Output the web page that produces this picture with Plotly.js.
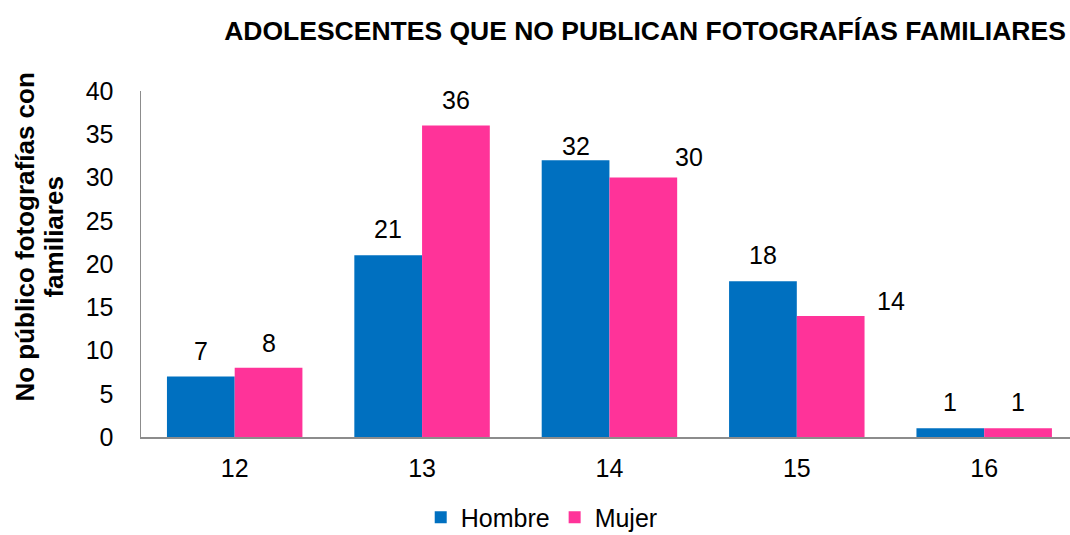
<!DOCTYPE html>
<html>
<head>
<meta charset="utf-8">
<script src="https://cdn.plot.ly/plotly-3.0.1.min.js"></script>
<style>html,body{margin:0;padding:0;background:#fff;}#chart{width:1070px;height:535px;}</style>
</head>
<body>
<div id="chart"></div>
<script>
// ---- data ----
const categories = ['12', '13', '14', '15', '16'];
const hombre = [7, 21, 32, 18, 1];
const mujer = [8, 36, 30, 14, 1];
const seriesNames = ['Hombre', 'Mujer'];
const chartTitle = 'ADOLESCENTES QUE NO PUBLICAN FOTOGRAFÍAS FAMILIARES';
const yTitleLines = ['No público fotografías con', 'familiares'];

// ---- style ----
const FONT = 'Liberation Sans, Arial, sans-serif';
const BLUE = '#0070C0';
const PINK = '#FF3399';
const HALF = 33.9; // half bar width in px
// label offsets (px): [dx, dy] relative to bar centre / top
const hOff = [[0,25],[0,26],[0,14],[0,26],[0,26]];
const mOff = [[0,25],[0,25.5],[45.5,21],[60,14.5],[0,26]];

const traces = [
  {type:'bar', name: seriesNames[0], x: categories, y: hombre, marker:{color:BLUE}, hoverinfo:'none'},
  {type:'bar', name: seriesNames[1], x: categories, y: mujer, marker:{color:PINK}, hoverinfo:'none'}
];

const annotations = [];
categories.forEach((c, i) => {
  annotations.push({x:i, y:hombre[i], xref:'x', yref:'y', text:String(hombre[i]), showarrow:false,
    xanchor:'center', yanchor:'middle', xshift:-HALF + hOff[i][0], yshift:hOff[i][1],
    font:{family:FONT, size:25, color:'#000'}});
  annotations.push({x:i, y:mujer[i], xref:'x', yref:'y', text:String(mujer[i]), showarrow:false,
    xanchor:'center', yanchor:'middle', xshift:HALF + mOff[i][0], yshift:mOff[i][1],
    font:{family:FONT, size:25, color:'#000'}});
});
// y axis title (two lines)
const L = 141.4, T = 90.8, B = 437.3, R = 1070;
const W = R - L, H = B - T;
const px2x = p => (p - L) / W;
const py2y = p => (B - p) / H;
annotations.push({xref:'paper', yref:'paper', x:px2x(25), y:py2y(237), text:yTitleLines[0], textangle:-90,
  showarrow:false, xanchor:'center', yanchor:'middle', font:{family:FONT, size:26, color:'#000', weight:'bold'}});
annotations.push({xref:'paper', yref:'paper', x:px2x(54), y:py2y(237), text:yTitleLines[1], textangle:-90,
  showarrow:false, xanchor:'center', yanchor:'middle', font:{family:FONT, size:26, color:'#000', weight:'bold'}});

const layout = {
  width:1070, height:535,
  paper_bgcolor:'#fff', plot_bgcolor:'#fff',
  margin:{l:L, r:0, t:T, b:535-B, pad:0, autoexpand:false},
  font:{family:FONT, size:25, color:'#000'},
  title:{text:chartTitle, xref:'container', yref:'container', x:645/1070, xanchor:'center',
    y:1-30.8/535, yanchor:'middle', font:{family:FONT, size:26.5, color:'#000', weight:'bold'}},
  barmode:'group', bargap:0.277, bargroupgap:0,
  showlegend:true,
  legend:{orientation:'h', x:px2x(421), xanchor:'left', y:py2y(518), yanchor:'middle',
    font:{family:FONT, size:25, color:'#000'}, bgcolor:'rgba(0,0,0,0)', traceorder:'normal'},
  xaxis:{type:'category', range:[-0.5, 4.458], showgrid:false, zeroline:false,
    showline:true, linecolor:'#8c8c8c', linewidth:1.5, ticks:'', ticklabelstandoff:8,
    tickfont:{family:FONT, size:25, color:'#000'}, fixedrange:true},
  yaxis:{range:[0,40], dtick:5, tick0:0, showgrid:false, zeroline:false,
    showline:true, linecolor:'#8c8c8c', linewidth:1.5, ticks:'', ticklabelstandoff:21,
    tickfont:{family:FONT, size:25, color:'#000'}, fixedrange:true},
  annotations: annotations
};

Plotly.newPlot('chart', traces, layout, {displayModeBar:false, staticPlot:true});
</script>
</body>
</html>
